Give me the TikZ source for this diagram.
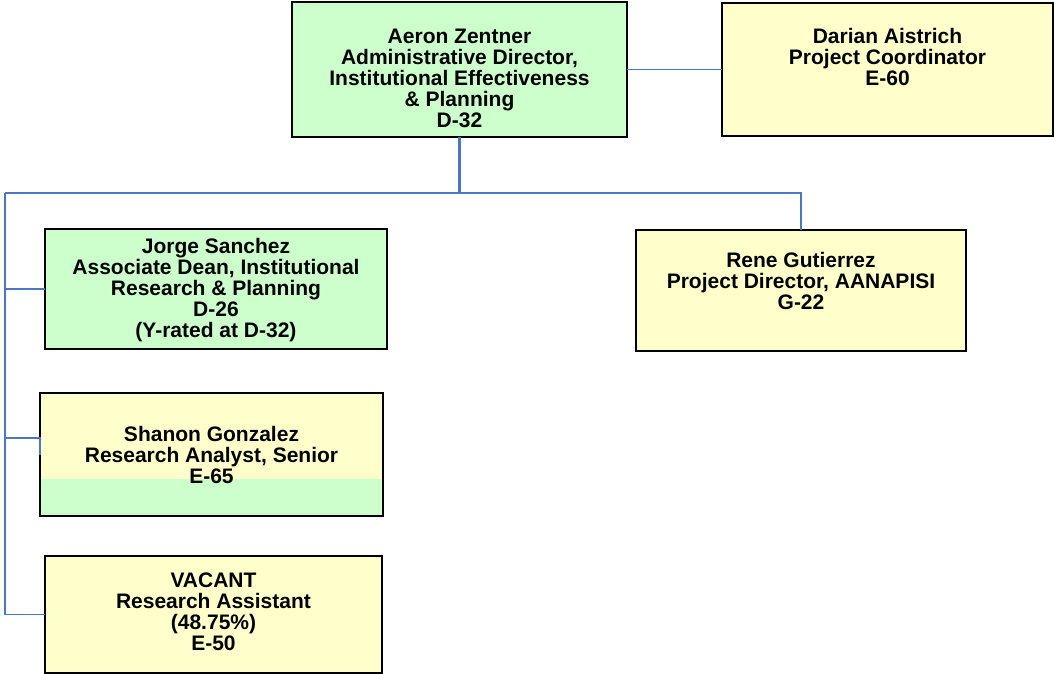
\documentclass[tikz,border=0pt]{standalone}
\usepackage{fontspec}
\setmainfont{Liberation Sans}
\usetikzlibrary{positioning}
\definecolor{boxgreen}{HTML}{CCFFCC}
\definecolor{boxyellow}{HTML}{FFFFCC}
\definecolor{linkblue}{HTML}{4A76C6}

\begin{document}
\begin{tikzpicture}[x=1pt, y=-1pt,
  box/.style={draw=black, line width=1.8pt, rectangle, inner sep=0pt, outer sep=0pt},
  txt/.style={align=center, inner sep=0pt, font=\fontsize{21}{21}\selectfont\bfseries},
  link/.style={draw=linkblue, line width=1.4pt}]
\useasboundingbox (0,0) rectangle (1054,674);
\node[box, fill=boxgreen, minimum width=335pt, minimum height=135pt] (aeron) at (459.5,69.5) {};
\node[txt, below=27pt of aeron.north] (aeron-t) {Aeron Zentner\\Administrative Director,\\Institutional Effectiveness\\\& Planning\\D-32};
\node[box, fill=boxyellow, minimum width=331pt, minimum height=133pt] (darian) at (887.5,69.5) {};
\node[txt, below=25pt of darian.north] (darian-t) {Darian Aistrich\\Project Coordinator\\E-60};
\node[box, fill=boxgreen, minimum width=342pt, minimum height=120pt] (jorge) at (216,289) {};
\node[txt, below=9pt of jorge.north] (jorge-t) {Jorge Sanchez\\Associate Dean, Institutional\\Research \& Planning\\D-26\\(Y-rated at D-32)};
\node[box, fill=boxyellow, minimum width=330pt, minimum height=121pt] (rene) at (801,290.5) {};
\node[txt, below=22pt of rene.north] (rene-t) {Rene Gutierrez\\Project Director, AANAPISI\\G-22};
\node[box, fill=boxyellow, minimum width=343pt, minimum height=123pt,
  path picture={\fill[boxgreen] ([yshift=37pt]path picture bounding box.south west) rectangle (path picture bounding box.south east);}] (shanon) at (211.5,454.5) {};
\node[txt, below=33pt of shanon.north] (shanon-t) {Shanon Gonzalez\\Research Analyst, Senior\\E-65};
\node[box, fill=boxyellow, minimum width=337pt, minimum height=117pt] (vacant) at (213.5,614.5) {};
\node[txt, below=17pt of vacant.north] (vacant-t) {VACANT\\Research Assistant\\(48.75\%)\\E-50};
% connectors
\coordinate (bus) at (5,193);
\coordinate (shanon-tap) at ([yshift=16.5pt]shanon.west);
\draw[link, line width=2.4pt] (aeron.south) -- (aeron.south |- bus) -- (bus);
\draw[link] (aeron.south |- bus) -| (rene.north);
\draw[link] (aeron.east) -- (darian.west);
\draw[link] (bus) -- (bus |- vacant.west) -- (vacant.west);
\draw[link] (bus |- jorge.west) -- (jorge.west);
\draw[link] (bus |- shanon-tap) -- (shanon-tap) -- (shanon.west);
\end{tikzpicture}
\end{document}
